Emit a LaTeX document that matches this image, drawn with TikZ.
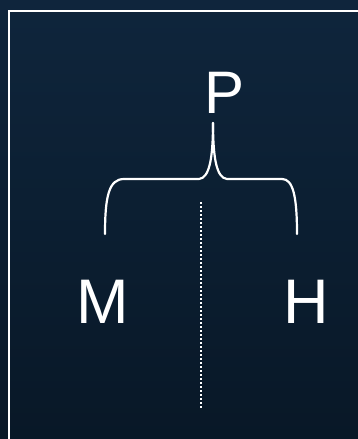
\documentclass[tikz,border=0pt]{standalone}
\usepackage{fontspec}
\setmainfont{Liberation Sans}
\definecolor{bgtop}{HTML}{0F263D}
\definecolor{bgbot}{HTML}{081726}
\tikzset{
  letter/.style={text=white, inner sep=0pt, anchor=base, font=\fontsize{63}{63}\selectfont},
  bigletter/.style={letter, font=\fontsize{60}{60}\selectfont},
  bracestroke/.style={draw=white, line width=2.2pt, line cap=round, line join=round},
  dotline/.style={draw=white, line width=2pt, dash pattern=on 2pt off 2pt},
  framestroke/.style={draw=white, line width=2pt}
}
\begin{document}
\begin{tikzpicture}[x=1pt,y=-1pt]
\useasboundingbox (0,0) rectangle (357,439);
\begin{scope}[overlay]
\fill[bgtop!50!bgbot] (-30,-30) rectangle (390,470);
\shade[top color=bgtop, bottom color=bgbot] (-20,-20) rectangle (380,460);
\draw[framestroke] (8.5,470) -- (8.5,11) -- (400,11);
\end{scope}
% letters
\node[bigletter] (P) at (225,113) {P};
\node[letter] (M) at (102.5,323) {M};
\node[letter] (H) at (306.5,323) {H};
% brace
\coordinate (tip) at (213,123);
\coordinate (lend) at (105,234);
\coordinate (rend) at (297,234);
\draw[bracestroke] (lend) .. controls (105,196) and (109,179) .. (124,179)
  -- (199,179) .. controls (209,178) and (213,160) .. (tip);
\draw[bracestroke] (rend) .. controls (297,196) and (293,179) .. (282,179)
  -- (227,179) .. controls (217,178) and (213,160) .. (tip);
% dotted divider
\coordinate (dtop) at (200.5,202);
\coordinate (dbot) at (200.5,408);
\draw[dotline] (dtop) -- (dbot);
\end{tikzpicture}
\end{document}
